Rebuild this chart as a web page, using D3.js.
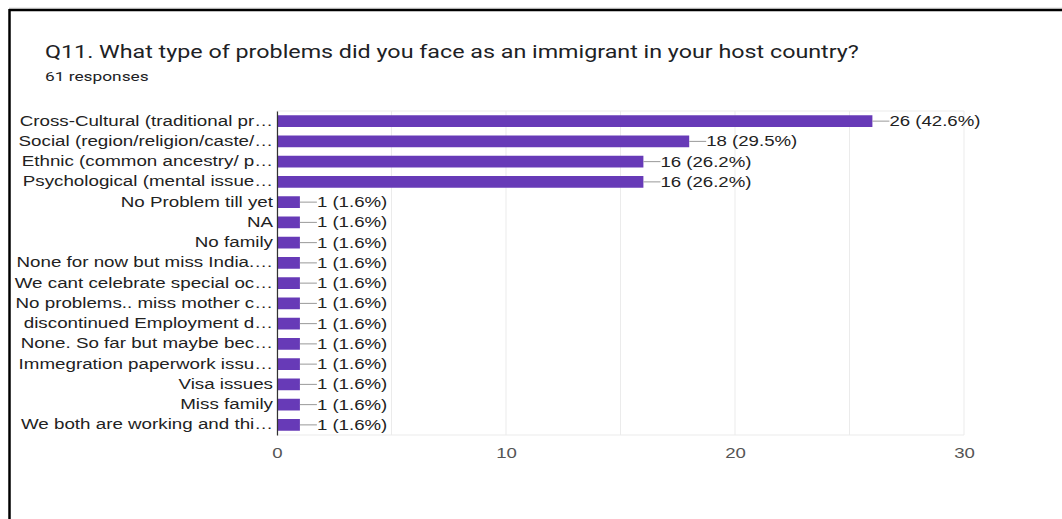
<!DOCTYPE html>
<html>
<head>
<meta charset="utf-8">
<script src="https://cdn.jsdelivr.net/npm/d3@7"></script>
<style>
  html, body { margin: 0; padding: 0; background: #fff; }
  svg { display: block; }
</style>
</head>
<body>
<svg id="chart" width="1062" height="519"></svg>
<script>
// Survey answers (truncated as displayed) and response counts
const categories = [
  "Cross-Cultural (traditional pr\u2026",
  "Social (region/religion/caste/\u2026",
  "Ethnic (common ancestry/ p\u2026",
  "Psychological (mental issue\u2026",
  "No Problem till yet",
  "NA",
  "No family",
  "None for now but miss India.\u2026",
  "We cant celebrate special oc\u2026",
  "No problems.. miss mother c\u2026",
  "discontinued Employment d\u2026",
  "None. So far but maybe bec\u2026",
  "Immegration paperwork issu\u2026",
  "Visa issues",
  "Miss family",
  "We both are working and thi\u2026"
];
const counts = [26, 18, 16, 16, 1, 1, 1, 1, 1, 1, 1, 1, 1, 1, 1, 1];
const totalResponses = 61;
const xTicks = [0, 10, 20, 30];
const gridTicks = [0, 5, 10, 15, 20, 25, 30];

const title = "Q11. What type of problems did you face as an immigrant in your host country?";
const subtitle = totalResponses + " responses";

// Lettering is drawn horizontally widened
const TEXT_STRETCH = 1.33;
const CATEGORY_STRETCH = 1.34;

const svg = d3.select("#chart");

// Frame lines (top and left)
svg.append("line").attr("x1", 9).attr("x2", 1062).attr("y1", 8).attr("y2", 8)
  .attr("stroke", "#ddd").attr("stroke-width", 1);
svg.append("line").attr("x1", 9).attr("x2", 1062).attr("y1", 10).attr("y2", 10)
  .attr("stroke", "#000").attr("stroke-width", 2.5);
svg.append("line").attr("x1", 9.5).attr("x2", 9.5).attr("y1", 9).attr("y2", 519)
  .attr("stroke", "#000").attr("stroke-width", 2.5);

svg.append("text").attr("x", 45).attr("y", 58)
  .attr("font-family", "Roboto, sans-serif").attr("font-size", 17.5)
  .attr("fill", "#202124").text(title);
svg.append("text").attr("x", 45).attr("y", 81)
  .attr("font-family", "Roboto, sans-serif").attr("font-size", 13)
  .attr("fill", "#202124").text(subtitle);

const plot = { left: 277, right: 964, top: 111, bottom: 435 };

const x = d3.scaleLinear().domain([0, 30]).range([plot.left, plot.right]);
const y = d3.scaleBand().domain(categories).range([plot.top, plot.bottom]).paddingInner(0.42).paddingOuter(0.21);

// Vertical gridlines
svg.append("g").selectAll("line").data(gridTicks).join("line")
  .attr("x1", d => x(d)).attr("x2", d => x(d))
  .attr("y1", plot.top).attr("y2", plot.bottom)
  .attr("stroke", "#ebebeb").attr("stroke-width", 1);
svg.append("line").attr("x1", plot.left).attr("x2", plot.right)
  .attr("y1", plot.top).attr("y2", plot.top).attr("stroke", "#ebebeb");
svg.append("line").attr("x1", plot.left).attr("x2", plot.right)
  .attr("y1", plot.bottom).attr("y2", plot.bottom).attr("stroke", "#ebebeb");

// Bars
svg.append("g").selectAll("rect").data(counts).join("rect")
  .attr("x", x(0))
  .attr("y", (d, i) => y(categories[i]))
  .attr("width", d => x(d) - x(0))
  .attr("height", y.bandwidth())
  .attr("fill", "#673ab7");

// Leader lines and value labels
const labels = svg.append("g");
counts.forEach((d, i) => {
  const cy = y(categories[i]) + y.bandwidth() / 2;
  labels.append("line")
    .attr("x1", x(d)).attr("x2", x(d) + 17)
    .attr("y1", cy).attr("y2", cy)
    .attr("stroke", "#999").attr("stroke-width", 1);
  labels.append("text")
    .attr("x", x(d) + 17).attr("y", cy)
    .attr("dy", "0.36em")
    .attr("font-family", "'Liberation Sans', Arial, sans-serif").attr("font-size", 14)
    .attr("fill", "#222")
    .text(d + " (" + (d / totalResponses * 100).toFixed(1) + "%)");
});

// Category axis
const yAxis = svg.append("g").attr("transform", `translate(${plot.left},0)`)
  .call(d3.axisLeft(y).tickSize(0).tickPadding(4));
yAxis.select(".domain").attr("stroke", "#333").attr("stroke-width", 1.2);
yAxis.selectAll("text")
  .attr("font-family", "'Liberation Sans', Arial, sans-serif").attr("font-size", 14)
  .attr("fill", "#222")
  .classed("category-label", true);

// Value axis labels
const xAxis = svg.append("g").attr("transform", `translate(0,${plot.bottom})`)
  .call(d3.axisBottom(x).tickValues(xTicks).tickSize(0).tickPadding(13));
xAxis.select(".domain").remove();
xAxis.selectAll("text")
  .attr("font-family", "'Liberation Sans', Arial, sans-serif").attr("font-size", 14)
  .attr("fill", "#555");

// Widen every label while keeping its anchor point
svg.selectAll("text").each(function () {
  const w = this.getComputedTextLength();
  const k = this.classList.contains("category-label") ? CATEGORY_STRETCH : TEXT_STRETCH;
  d3.select(this)
    .attr("textLength", w * k)
    .attr("lengthAdjust", "spacingAndGlyphs");
});
</script>
</body>
</html>
